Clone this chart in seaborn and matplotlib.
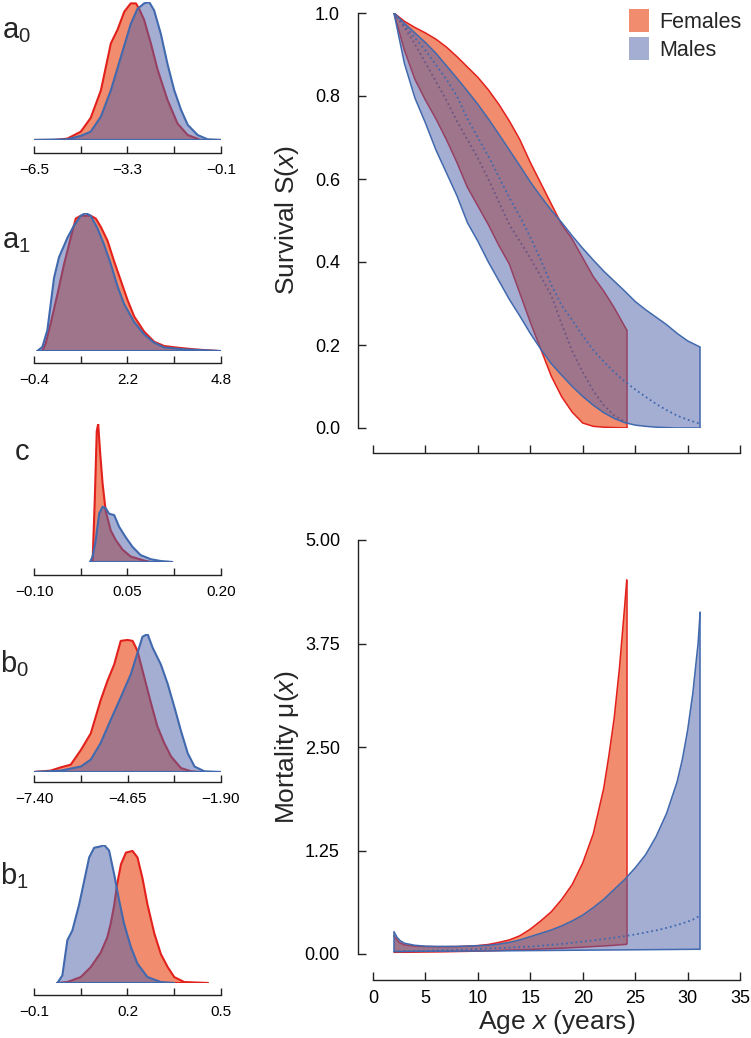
import numpy as np
import pandas as pd
import matplotlib
matplotlib.use("Agg")
import matplotlib.pyplot as plt
import seaborn as sns
from matplotlib.patches import Patch

# ---------------- data ----------------
# Posterior densities (scaled so the tallest curve of each panel = 1)
a0_ticks = [-6.5, -4.9, -3.3, -1.7, -0.1]
a0_labels = ["−6.5", "", "−3.3", "", "−0.1"]
a0_fem_x = [-6.5, -5.8, -5.36, -4.9, -4.56, -4.21, -3.87, -3.64, -3.41, -3.19, -3.01, -2.9, -2.73, -2.5, -2.27, -1.93, -1.59, -1.24, -0.79, -0.1]
a0_fem_d = [0, 0, 0.01, 0.06, 0.16, 0.36, 0.70, 0.80, 0.93, 0.99, 0.99, 0.95, 0.87, 0.70, 0.51, 0.29, 0.12, 0.036, 0.0, 0]
a0_mal_x = [-6.5, -5.36, -4.9, -4.56, -4.21, -3.87, -3.53, -3.19, -2.96, -2.73, -2.56, -2.39, -2.16, -1.93, -1.70, -1.47, -1.24, -0.9, -0.56, -0.1]
a0_mal_d = [0, 0.005, 0.03, 0.06, 0.17, 0.36, 0.60, 0.84, 0.95, 0.99, 1.0, 0.94, 0.77, 0.55, 0.36, 0.22, 0.11, 0.036, 0.005, 0]

a1_ticks = [-0.4, 0.9, 2.2, 3.5, 4.8]
a1_labels = ["−0.4", "", "2.2", "", "4.8"]
a1_fem_x = [-0.17, -0.075, 0.064, 0.25, 0.436, 0.621, 0.761, 0.9, 1.178, 1.318, 1.457, 1.643, 1.828, 2.014, 2.2, 2.386, 2.664, 2.943, 3.221, 3.593, 4.057, 4.707]
a1_fem_d = [0, 0.055, 0.20, 0.41, 0.63, 0.82, 0.96, 0.98, 0.98, 0.96, 0.90, 0.80, 0.65, 0.51, 0.37, 0.25, 0.14, 0.067, 0.036, 0.024, 0.012, 0]
a1_mal_x = [-0.307, -0.168, -0.029, 0.064, 0.157, 0.296, 0.529, 0.714, 0.9, 1.039, 1.178, 1.364, 1.55, 1.736, 1.921, 2.107, 2.386, 2.664, 2.943, 3.221, 3.778, 4.8]
a1_mal_d = [0, 0.03, 0.15, 0.34, 0.53, 0.68, 0.82, 0.91, 0.98, 1.0, 0.98, 0.89, 0.77, 0.63, 0.47, 0.34, 0.21, 0.12, 0.06, 0.026, 0.012, 0]

c_ticks = [-0.10, -0.025, 0.05, 0.125, 0.20]
c_labels = ["−0.10", "", "0.05", "", "0.20"]
c_fem_x = [-0.006, -0.0025, 0.0007, 0.003, 0.006, 0.010, 0.015, 0.023, 0.031, 0.042, 0.055, 0.077, 0.0875]
c_fem_d = [0, 0.45, 0.95, 1.0, 0.80, 0.57, 0.37, 0.23, 0.16, 0.09, 0.04, 0.01, 0]
c_mal_x = [-0.010, -0.006, -0.0009, 0.0045, 0.010, 0.015, 0.0205, 0.0286, 0.0366, 0.047, 0.058, 0.071, 0.0875, 0.1036, 0.122]
c_mal_d = [0, 0.04, 0.16, 0.35, 0.40, 0.39, 0.35, 0.34, 0.255, 0.18, 0.11, 0.05, 0.02, 0.007, 0]

b0_ticks = [-7.40, -6.025, -4.65, -3.275, -1.90]
b0_labels = ["−7.40", "", "−4.65", "", "−1.90"]
b0_fem_x = [-7.40, -6.91, -6.61, -6.32, -6.02, -5.73, -5.44, -5.24, -5.04, -4.85, -4.65, -4.50, -4.36, -4.16, -3.96, -3.77, -3.57, -3.37, -3.08, -2.78, -2.49]
b0_fem_d = [0, 0.01, 0.034, 0.053, 0.16, 0.28, 0.52, 0.66, 0.78, 0.95, 0.957, 0.95, 0.88, 0.69, 0.50, 0.33, 0.21, 0.113, 0.029, 0.005, 0]
b0_mal_x = [-7.40, -6.61, -6.02, -5.73, -5.44, -5.14, -4.85, -4.55, -4.36, -4.21, -4.06, -3.91, -3.67, -3.47, -3.27, -3.08, -2.88, -2.68, -2.39, -1.90]
b0_mal_d = [0, 0.01, 0.04, 0.09, 0.21, 0.38, 0.54, 0.71, 0.86, 0.98, 1.0, 0.90, 0.78, 0.64, 0.47, 0.30, 0.137, 0.04, 0.005, 0]

b1_ticks = [-0.1, 0.05, 0.2, 0.35, 0.5]
b1_labels = ["−0.1", "", "0.2", "", "0.5"]
b1_fem_x = [-0.025, 0.007, 0.05, 0.082, 0.114, 0.135, 0.146, 0.157, 0.167, 0.179, 0.195, 0.216, 0.232, 0.248, 0.264, 0.286, 0.307, 0.329, 0.35, 0.382, 0.457]
b1_fem_d = [0, 0.007, 0.043, 0.115, 0.22, 0.33, 0.43, 0.56, 0.72, 0.86, 0.945, 0.957, 0.91, 0.76, 0.57, 0.36, 0.21, 0.115, 0.043, 0.007, 0]
b1_mal_x = [-0.025, -0.009, 0.007, 0.023, 0.045, 0.061, 0.077, 0.093, 0.114, 0.125, 0.141, 0.157, 0.173, 0.189, 0.211, 0.232, 0.264, 0.307, 0.35]
b1_mal_d = [0, 0.055, 0.31, 0.38, 0.57, 0.74, 0.91, 0.98, 0.99, 1.0, 0.96, 0.79, 0.60, 0.43, 0.26, 0.14, 0.043, 0.007, 0]

# Survival S(x): credible band (lower, upper) and median
fem_age = [2, 3, 4, 5, 6, 7, 8, 9, 10, 11, 12, 13, 14, 15, 16, 17, 18, 19, 20, 21, 22, 23, 24.2]
fem_S_hi = [1.0, 0.98, 0.965, 0.952, 0.937, 0.918, 0.895, 0.87, 0.845, 0.815, 0.78, 0.74, 0.695, 0.64, 0.59, 0.54, 0.49, 0.455, 0.41, 0.365, 0.33, 0.29, 0.236]
fem_S_lo = [1.0, 0.91, 0.84, 0.79, 0.745, 0.695, 0.64, 0.58, 0.535, 0.49, 0.44, 0.395, 0.325, 0.255, 0.19, 0.125, 0.075, 0.038, 0.012, 0.004, 0.002, 0.001, 0.0]
fem_S_med = [1.0, 0.965, 0.925, 0.88, 0.835, 0.79, 0.74, 0.695, 0.65, 0.60, 0.545, 0.49, 0.45, 0.41, 0.365, 0.32, 0.25, 0.185, 0.135, 0.09, 0.055, 0.03, 0.012]

mal_age = [2, 3, 4, 5, 6, 7, 8, 9, 10, 11, 12, 13, 14, 15, 16, 17, 18, 19, 20, 21, 22, 23, 24, 25, 26, 27, 28, 29, 30, 31.2]
mal_S_hi = [1.0, 0.975, 0.952, 0.929, 0.903, 0.873, 0.843, 0.812, 0.78, 0.745, 0.708, 0.67, 0.632, 0.593, 0.558, 0.525, 0.495, 0.463, 0.433, 0.405, 0.378, 0.354, 0.33, 0.305, 0.285, 0.267, 0.249, 0.228, 0.21, 0.195]
mal_S_lo = [1.0, 0.878, 0.795, 0.735, 0.67, 0.615, 0.56, 0.495, 0.45, 0.40, 0.355, 0.31, 0.27, 0.228, 0.19, 0.155, 0.127, 0.10, 0.076, 0.055, 0.037, 0.023, 0.013, 0.007, 0.004, 0.002, 0.001, 0.0, 0.0, 0.0]
mal_S_med = [1.0, 0.97, 0.94, 0.91, 0.875, 0.84, 0.80, 0.745, 0.70, 0.655, 0.605, 0.555, 0.51, 0.46, 0.405, 0.345, 0.295, 0.26, 0.222, 0.188, 0.16, 0.135, 0.112, 0.093, 0.075, 0.058, 0.043, 0.03, 0.02, 0.01]

# Mortality mu(x)
fem_mu_age = [2, 2.5, 3, 4, 5, 6, 7, 8, 9, 10, 11, 12, 13, 14, 15, 16, 17, 18, 19, 20, 21, 22, 22.5, 23, 23.5, 24, 24.2]
fem_mu_hi = [0.22, 0.14, 0.11, 0.095, 0.09, 0.088, 0.088, 0.09, 0.095, 0.102, 0.115, 0.14, 0.17, 0.22, 0.30, 0.40, 0.51, 0.66, 0.84, 1.10, 1.45, 2.0, 2.4, 2.85, 3.45, 4.2, 4.52]
fem_mu_lo = [0.02, 0.021, 0.021, 0.022, 0.024, 0.025, 0.027, 0.03, 0.032, 0.035, 0.038, 0.042, 0.046, 0.05, 0.055, 0.06, 0.065, 0.07, 0.076, 0.082, 0.09, 0.097, 0.101, 0.105, 0.11, 0.115, 0.117]

mal_mu_age = [2, 2.3, 2.6, 3, 4, 5, 6, 8, 10, 11, 12, 13, 14, 15, 16, 17, 18, 19, 20, 21, 22, 23, 24, 25, 26, 27, 28, 29, 29.5, 30, 30.5, 31, 31.2]
mal_mu_hi = [0.27, 0.2, 0.16, 0.13, 0.105, 0.095, 0.092, 0.092, 0.10, 0.105, 0.12, 0.14, 0.17, 0.21, 0.25, 0.29, 0.34, 0.40, 0.47, 0.56, 0.66, 0.78, 0.90, 1.04, 1.20, 1.42, 1.70, 2.08, 2.35, 2.70, 3.15, 3.75, 4.13]
mal_mu_lo = [0.03, 0.03, 0.03, 0.031, 0.032, 0.033, 0.034, 0.035, 0.036, 0.037, 0.038, 0.039, 0.04, 0.041, 0.042, 0.043, 0.044, 0.045, 0.046, 0.047, 0.048, 0.049, 0.05, 0.051, 0.052, 0.053, 0.054, 0.055, 0.056, 0.056, 0.057, 0.057, 0.057]
mal_mu_med = [0.03, 0.031, 0.032, 0.034, 0.037, 0.04, 0.043, 0.05, 0.06, 0.066, 0.072, 0.078, 0.084, 0.09, 0.1, 0.11, 0.122, 0.135, 0.15, 0.165, 0.18, 0.197, 0.215, 0.236, 0.26, 0.285, 0.315, 0.35, 0.37, 0.39, 0.415, 0.45, 0.47]

x_ticks = [0, 5, 10, 15, 20, 25, 30, 35]
S_ticks = [0.0, 0.2, 0.4, 0.6, 0.8, 1.0]
S_tick_labels = ["0.0", "0.2", "0.4", "0.6", "0.8", "1.0"]
mu_ticks = [0.0, 1.25, 2.5, 3.75, 5.0]
mu_tick_labels = ["0.00", "1.25", "2.50", "3.75", "5.00"]
legend_labels = ["Females", "Males"]

# ---------------- style ----------------
sns.set_theme(style="ticks")
plt.rcParams['font.family'] = ['Liberation Sans', 'DejaVu Sans']
plt.rcParams['mathtext.fontset'] = 'custom'
plt.rcParams['mathtext.rm'] = 'Liberation Sans'
plt.rcParams['mathtext.it'] = 'Liberation Sans:italic'
plt.rcParams['mathtext.bf'] = 'Liberation Sans:bold'

F_FILL = "#F28C6E"
F_LINE = "#E3211C"
M_FILL = "#4B5FA9"
M_ALPHA = 0.5
M_LINE = "#4169AE"
AX_COL = "#222222"

W, H = 751, 1038
fig = plt.figure(figsize=(W / 100, H / 100), dpi=100)


def add_axes_px(left, top, right, bottom):
    return fig.add_axes([left / W, 1 - bottom / H, (right - left) / W, (bottom - top) / H])


def px2pt(p):
    return p * 72 / 100


def line(ax, x, y, color, lw, ls="-"):
    sns.lineplot(x=x, y=y, ax=ax, color=color, lw=lw, ls=ls, sort=False,
                 estimator=None, legend=False)


# ---------------- density panels ----------------
panels = [
    (r"$\mathregular{a_0}$", a0_ticks, a0_labels, a0_fem_x, a0_fem_d, a0_mal_x, a0_mal_d, 140, 13, 2, 38),
    (r"$\mathregular{a_1}$", a1_ticks, a1_labels, a1_fem_x, a1_fem_d, a1_mal_x, a1_mal_d, 351, 12, 2, 248),
    ("c", c_ticks, c_labels, c_fem_x, c_fem_d, c_mal_x, c_mal_d, 562, 13, 15, 460),
    (r"$\mathregular{b_0}$", b0_ticks, b0_labels, b0_fem_x, b0_fem_d, b0_mal_x, b0_mal_d, 772, 10, 0, 672),
    (r"$\mathregular{b_1}$", b1_ticks, b1_labels, b1_fem_x, b1_fem_d, b1_mal_x, b1_mal_d, 983, 12, 0, 884),
]

for name, ticks, tlabels, fx, fd, mx, md, base, off, xtxt, ybase in panels:
    ax = add_axes_px(34, base - 138, 221, base)
    fx, fd, mx, md = map(np.asarray, (fx, fd, mx, md))
    ax.fill_between(fx, 0, fd, facecolor=F_FILL, edgecolor="none", zorder=1)
    line(ax, fx, fd, F_LINE, 1.5)
    line(ax, [fx[0], fx[-1]], [0, 0], F_LINE, 1.5)
    ax.fill_between(mx, 0, md, facecolor=M_FILL, alpha=M_ALPHA, edgecolor="none", zorder=3)
    line(ax, mx, md, M_LINE, 1.5)
    line(ax, [mx[0], mx[-1]], [0, 0], M_LINE, 1.5)
    for ln in ax.lines[:2]:
        ln.set_zorder(2)
    for ln in ax.lines[2:]:
        ln.set_zorder(4)
    ax.set_xlim(ticks[0], ticks[-1])
    ax.set_ylim(0, 1.0)
    ax.set_xticks(ticks)
    ax.set_xticklabels(tlabels)
    ax.set_yticks([])
    for s in ["left", "right", "top"]:
        ax.spines[s].set_visible(False)
    ax.spines["bottom"].set_position(("outward", px2pt(off)))
    ax.spines["bottom"].set_color(AX_COL)
    ax.spines["bottom"].set_linewidth(1.0)
    ax.tick_params(axis="x", direction="in", length=5, width=1.0, colors=AX_COL,
                   labelsize=11, pad=7, labelcolor="black")
    ax.set_xlabel("")
    ax.set_ylabel("")
    ax.patch.set_alpha(0)
    fig.text(xtxt / W, 1 - ybase / H, name, ha="left", va="baseline", fontsize=21)

# ---------------- survival ----------------
ax_s = add_axes_px(373, 13, 740, 428)
fa, ma = np.asarray(fem_age), np.asarray(mal_age)
ax_s.fill_between(fa, fem_S_lo, fem_S_hi, facecolor=F_FILL, edgecolor="none", zorder=1)
line(ax_s, fa, fem_S_hi, F_LINE, 1.1)
line(ax_s, fa, fem_S_lo, F_LINE, 1.1)
line(ax_s, fa, fem_S_med, "#8E4A5C", 1.3, ":")
ax_s.vlines(fa[-1], fem_S_lo[-1], fem_S_hi[-1], color=F_LINE, lw=1.1, zorder=2)
ax_s.fill_between(ma, mal_S_lo, mal_S_hi, facecolor=M_FILL, alpha=M_ALPHA, edgecolor="none", zorder=3)
line(ax_s, ma, mal_S_hi, M_LINE, 1.1)
line(ax_s, ma, mal_S_lo, M_LINE, 1.1)
line(ax_s, ma, mal_S_med, M_LINE, 1.3, ":")
ax_s.vlines(ma[-1], mal_S_lo[-1], mal_S_hi[-1], color=M_LINE, lw=1.1, zorder=4)
for ln in ax_s.lines[:3]:
    ln.set_zorder(2)
for ln in ax_s.lines[3:]:
    ln.set_zorder(4)

# ---------------- mortality ----------------
ax_m = add_axes_px(373, 540, 740, 954)
fma, mma = np.asarray(fem_mu_age), np.asarray(mal_mu_age)
ax_m.fill_between(fma, fem_mu_lo, fem_mu_hi, facecolor=F_FILL, edgecolor="none", zorder=1)
line(ax_m, fma, fem_mu_hi, F_LINE, 1.1)
line(ax_m, fma, fem_mu_lo, F_LINE, 1.1)
ax_m.vlines(fma[-1], fem_mu_lo[-1], fem_mu_hi[-1], color=F_LINE, lw=1.1, zorder=2)
ax_m.fill_between(mma, mal_mu_lo, mal_mu_hi, facecolor=M_FILL, alpha=M_ALPHA, edgecolor="none", zorder=3)
line(ax_m, mma, mal_mu_hi, M_LINE, 1.1)
line(ax_m, mma, mal_mu_lo, M_LINE, 1.1)
line(ax_m, mma, mal_mu_med, M_LINE, 1.3, ":")
ax_m.vlines(mma[0], mal_mu_lo[0], mal_mu_hi[0], color=M_LINE, lw=1.1, zorder=4)
ax_m.vlines(mma[-1], mal_mu_lo[-1], mal_mu_hi[-1], color=M_LINE, lw=1.1, zorder=4)
for ln in ax_m.lines[:2]:
    ln.set_zorder(2)
for ln in ax_m.lines[2:]:
    ln.set_zorder(4)

for ax, yt, ytl, ylim, boff in [(ax_s, S_ticks, S_tick_labels, (0, 1), 25),
                                (ax_m, mu_ticks, mu_tick_labels, (0, 5), 26)]:
    ax.set_xlim(0, 35)
    ax.set_ylim(*ylim)
    ax.set_xticks(x_ticks)
    ax.set_yticks(yt)
    ax.set_yticklabels(ytl)
    for s in ["right", "top"]:
        ax.spines[s].set_visible(False)
    ax.spines["left"].set_position(("outward", px2pt(15)))
    ax.spines["bottom"].set_position(("outward", px2pt(boff)))
    ax.spines["left"].set_bounds(*ylim)
    ax.spines["bottom"].set_bounds(0, 35)
    for s in ["left", "bottom"]:
        ax.spines[s].set_color(AX_COL)
        ax.spines[s].set_linewidth(1.0)
    ax.tick_params(axis="both", direction="in", length=6, width=1.0, colors=AX_COL,
                   labelsize=13, labelcolor="black")
    ax.tick_params(axis="y", pad=13)
    ax.tick_params(axis="x", pad=7)
    ax.patch.set_alpha(0)
    ax.set_xlabel("")

ax_s.tick_params(axis="x", labelbottom=False)
ax_s.set_ylabel(r"Survival S($\mathit{x}$)", fontsize=19)
ax_m.set_ylabel(r"Mortality μ($\mathit{x}$)", fontsize=19)
ax_s.yaxis.set_label_coords(-0.195, 0.5)
ax_m.yaxis.set_label_coords(-0.195, 0.5)
ax_m.set_xlabel(r"Age $\mathit{x}$ (years)", fontsize=19, labelpad=1)

handles = [Patch(facecolor=F_FILL, edgecolor="none"),
           Patch(facecolor=M_FILL, alpha=M_ALPHA, edgecolor="none")]
ax_s.legend(handles, legend_labels, loc="upper left",
            bbox_to_anchor=((629 - 373) / 367, (428 - 9) / 415),
            frameon=False, fontsize=15.5, handlelength=0.95, handleheight=1.25,
            handletextpad=0.45, labelspacing=0.2, borderpad=0, borderaxespad=0)

fig.savefig("out.png", dpi=100)
